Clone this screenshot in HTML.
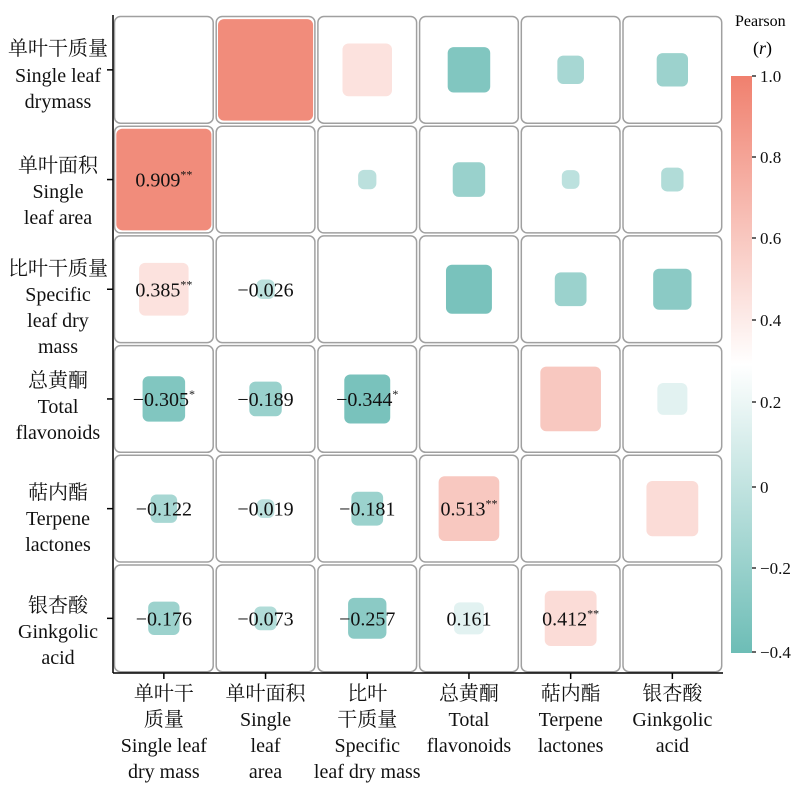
<!DOCTYPE html>
<html><head><meta charset="utf-8"><style>
html,body{margin:0;padding:0;background:#fff;}
svg{display:block;font-family:"Liberation Serif","Noto Serif CJK SC",serif;}
</style></head><body>
<svg id="s" width="800" height="785" xmlns="http://www.w3.org/2000/svg">
<defs>
<linearGradient id="cb" x1="0" y1="0" x2="0" y2="1">
<stop offset="0" stop-color="#f0806e"/>
<stop offset="0.5" stop-color="#ffffff"/>
<stop offset="1" stop-color="#6dbdb6"/>
</linearGradient>
</defs>
<rect x="731" y="76" width="21" height="577" fill="url(#cb)"/>
<text x="735" y="26" font-size="16">Pearson</text>
<text x="753" y="54" font-size="18">(<tspan font-style="italic">r</tspan>)</text>
</svg>
<script>
(function(){
const s=document.getElementById('s');const NS='http://www.w3.org/2000/svg';
function el(t,a,txt){const e=document.createElementNS(NS,t);for(const k in a)e.setAttribute(k,a[k]);if(txt!==undefined)e.textContent=txt;s.appendChild(e);return e;}
const x0=113,y0=15,cw=101.7,ch=109.7;
const R=[[1,.909,.385,-.305,-.122,-.176],[.909,1,-.026,-.189,-.019,-.073],[.385,-.026,1,-.344,-.181,-.257],[-.305,-.189,-.344,1,.513,.161],[-.122,-.019,-.181,.513,1,.412],[-.176,-.073,-.257,.161,.412,1]];
const sig={"1,0":"**","2,0":"**","3,0":"*","3,2":"*","4,3":"**","5,4":"**"};
function col(r){const red=[240,128,110],teal=[109,189,182];let c,t;if(r>=0.3){t=Math.pow(Math.min(1,(r-0.3)/0.7),0.7);c=red;}else{t=Math.min(1,(0.3-r)/0.7);c=teal;}return 'rgb('+c.map(v=>Math.round(255+(v-255)*t)).join(',')+')';}
for(let i=0;i<6;i++)for(let j=0;j<6;j++){
 const cx=x0+cw*(j+.5),cy=y0+ch*(i+.5);
 el('rect',{x:x0+cw*j+1.5,y:y0+ch*i+1.5,width:cw-3,height:ch-3,rx:6,fill:'#fff',stroke:'#a0a0a0','stroke-width':1.5});
 if(i==j)continue;const r=R[i][j];const w=16+87*Math.abs(r),h=17+93*Math.abs(r);
 el('rect',{x:cx-w/2,y:cy-h/2,width:w,height:h,rx:6,fill:col(r)});
 if(i>j){const t=el('text',{x:cx,y:cy+7,'font-size':20,'text-anchor':'middle',fill:'#111'});
  const v=(r<0?'\u2212':'')+Math.abs(r).toFixed(3);const a=document.createElementNS(NS,'tspan');a.textContent=v;t.appendChild(a);
  const st=sig[i+','+j];if(st){const b=document.createElementNS(NS,'tspan');b.setAttribute('font-size',12);b.setAttribute('dy',-8);b.textContent=st;t.appendChild(b);}}
}
el('line',{x1:x0,y1:y0,x2:x0,y2:673,stroke:'#000','stroke-width':1.5});
el('line',{x1:x0,y1:673,x2:723,y2:673,stroke:'#000','stroke-width':1.5});
for(let k=0;k<6;k++){const cy=y0+ch*(k+.5),cx=x0+cw*(k+.5);
 el('line',{x1:x0-6,y1:cy,x2:x0,y2:cy,stroke:'#000','stroke-width':1.5});
 el('line',{x1:cx,y1:673,x2:cx,y2:679,stroke:'#000','stroke-width':1.5});}
const L=[["单叶干质量","Single leaf","drymass"],["单叶面积","Single","leaf area"],["比叶干质量","Specific","leaf dry","mass"],["总黄酮","Total","flavonoids"],["萜内酯","Terpene","lactones"],["银杏酸","Ginkgolic","acid"]];
const ys=[[55,82,108],[172,198,224],[275,301,327,353],[387,413,439],[499,525,551],[612,638,664]];
L.forEach((ls,k)=>ls.forEach((t,m)=>el('text',{x:58,y:ys[k][m],'font-size':20,'text-anchor':'middle',fill:'#111'},t)));
const B=[["单叶干","质量","Single leaf","dry mass"],["单叶面积","Single","leaf","area"],["比叶","干质量","Specific","leaf dry mass"],["总黄酮","Total","flavonoids"],["萜内酯","Terpene","lactones"],["银杏酸","Ginkgolic","acid"]];
B.forEach((ls,k)=>ls.forEach((t,m)=>el('text',{x:x0+cw*(k+.5),y:700+26*m,'font-size':20,'text-anchor':'middle',fill:'#111'},t)));
const ticks=[["1.0",76],["0.8",157],["0.6",238],["0.4",320],["0.2",402],["0",487],["\u22120.2",568],["\u22120.4",652]];
ticks.forEach(([t,y])=>{el('line',{x1:752,y1:y,x2:756,y2:y,stroke:'#000','stroke-width':1.2});el('text',{x:760,y:y+6,'font-size':17,fill:'#111'},t);});
})();
</script>
</body></html>
